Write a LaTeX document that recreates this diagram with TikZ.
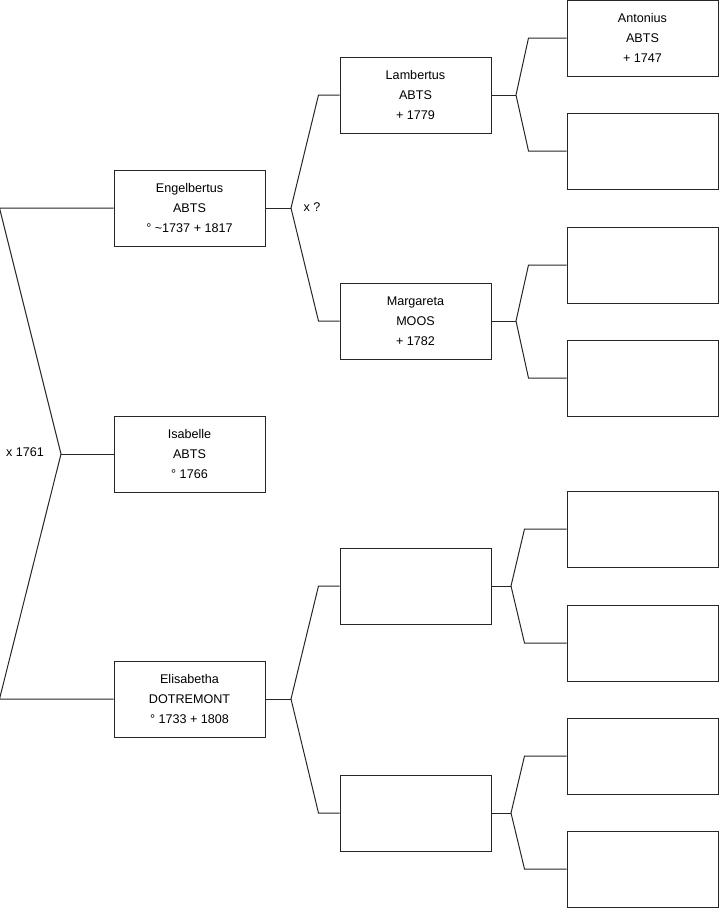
\documentclass[tikz,border=0pt]{standalone}
\usepackage{fontspec}
\setmainfont{Liberation Sans}
\usepackage{tikz}
\tikzset{
  person/.style={draw=black!85, line width=1pt, fill=white, minimum width=151pt,
    minimum height=76pt, inner sep=0pt, align=center,
    font=\fontsize{12.6}{20}\selectfont},
  link/.style={draw=black!85, line width=1pt}
}

\begin{document}
\begin{tikzpicture}[x=1pt,y=-1pt]
  \useasboundingbox (0,0) rectangle (719,908);
  % generation 1
  \node[person] (eng) at (189.5,208) {Engelbertus\\ABTS\\° \textasciitilde1737 + 1817};
  \node[person] (isa) at (189.5,454) {Isabelle\\ABTS\\° 1766};
  \node[person] (eli) at (189.5,699) {Elisabetha\\DOTREMONT\\° 1733 + 1808};
  % generation 2
  \node[person] (lam) at (415.5,95) {Lambertus\\ABTS\\+ 1779};
  \node[person] (mar) at (415.5,321) {Margareta\\MOOS\\+ 1782};
  \node[person] (ub1) at (415.5,586) {};
  \node[person] (ub2) at (415.5,813) {};
  % generation 3
  \node[person] (ant) at (642.5,38) {Antonius\\ABTS\\+ 1747};
  \node[person] (g3b) at (642.5,151) {};
  \node[person] (g3c) at (642.5,265) {};
  \node[person] (g3d) at (642.5,378) {};
  \node[person] (g3e) at (642.5,529) {};
  \node[person] (g3f) at (642.5,643) {};
  \node[person] (g3g) at (642.5,756) {};
  \node[person] (g3h) at (642.5,869) {};
  % forks
  \coordinate (fIsa) at (61,454);
  \coordinate (fEng) at (291,208);
  \coordinate (fEli) at (291,699);
  \coordinate (fLam) at (516,95);
  \coordinate (fMar) at (516,321);
  \coordinate (fUb1) at (511,586);
  \coordinate (fUb2) at (511,813);
  % parents of Isabelle
  \draw[link] (isa.west) -- (fIsa);
  \draw[link] (eng.west) -- ([xshift=-114pt]eng.west) -- (fIsa) -- ([xshift=-114pt]eli.west) -- (eli.west);
  \node (mIsa) at (25,452) {\fontsize{12.6}{14}\selectfont x 1761};
  % parents of Engelbertus
  \draw[link] (eng.east) -- (fEng);
  \draw[link] (lam.west) -- ([xshift=-21pt]lam.west) -- (fEng) -- ([xshift=-21pt]mar.west) -- (mar.west);
  \node (mEng) at (312,207) {\fontsize{12.6}{14}\selectfont x ?};
  % parents of Elisabetha
  \draw[link] (eli.east) -- (fEli);
  \draw[link] (ub1.west) -- ([xshift=-21pt]ub1.west) -- (fEli) -- ([xshift=-21pt]ub2.west) -- (ub2.west);
  % generation 3 links
  \draw[link] (lam.east) -- (fLam);
  \draw[link] (ant.west) -- ([xshift=-38pt]ant.west) -- (fLam) -- ([xshift=-38pt]g3b.west) -- (g3b.west);
  \draw[link] (mar.east) -- (fMar);
  \draw[link] (g3c.west) -- ([xshift=-38pt]g3c.west) -- (fMar) -- ([xshift=-38pt]g3d.west) -- (g3d.west);
  \draw[link] (ub1.east) -- (fUb1);
  \draw[link] (g3e.west) -- ([xshift=-42pt]g3e.west) -- (fUb1) -- ([xshift=-42pt]g3f.west) -- (g3f.west);
  \draw[link] (ub2.east) -- (fUb2);
  \draw[link] (g3g.west) -- ([xshift=-42pt]g3g.west) -- (fUb2) -- ([xshift=-42pt]g3h.west) -- (g3h.west);
\end{tikzpicture}
\end{document}
